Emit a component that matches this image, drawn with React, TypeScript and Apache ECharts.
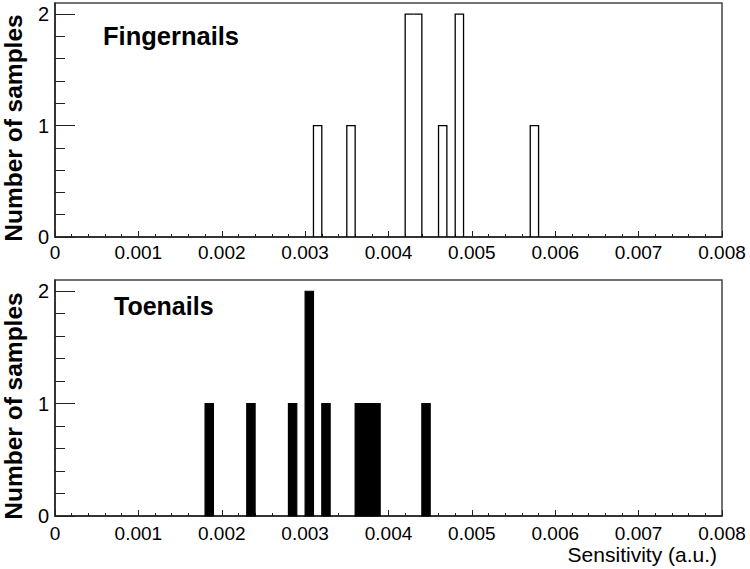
import React, { useEffect, useRef } from "react";
import * as echarts from "echarts";

const binWidth = 0.0001;
const fingerBinStarts = [0.0031, 0.0035, 0.0042, 0.0043, 0.0046, 0.0048, 0.0057];
const fingerCounts = [1, 1, 2, 2, 1, 2, 1];
const toeBinStarts = [0.0018, 0.0023, 0.0028, 0.003, 0.0032, 0.0036, 0.0037, 0.0038, 0.0044];
const toeCounts = [1, 1, 1, 2, 1, 1, 1, 1, 1];
const yMajorTicks = [0, 1, 2];
const yMinorTicks = [0.2, 0.4, 0.6, 0.8, 1.2, 1.4, 1.6, 1.8];
const xMin = 0;
const xMax = 0.008;
const xInterval = 0.001;
const yMax = 2.1;
const panelTitles = ["Fingernails", "Toenails"];
const yTitle = "Number of samples";
const xTitle = "Sensitivity (a.u.)";

const FONT = "'Liberation Sans', Arial, Helvetica, sans-serif";

function countMap(starts: number[], counts: number[]) {
  const m: Record<number, number> = {};
  starts.forEach((s, i) => {
    m[Math.round(s / binWidth)] = counts[i];
  });
  return m;
}

export default function App() {
  const ref = useRef<HTMLDivElement>(null);
  useEffect(() => {
    if (!ref.current) return;
    const chart = echarts.init(ref.current, null, { renderer: "svg" });
    const fingerMap = countMap(fingerBinStarts, fingerCounts);

    const xAxisBase = (gridIndex: number, margin: number) => ({
      gridIndex,
      type: "value",
      min: xMin,
      max: xMax,
      interval: xInterval,
      axisLine: { show: true, onZero: false, lineStyle: { color: "#222", width: 1.5 } },
      axisTick: { show: true, inside: true, length: 6, lineStyle: { color: "#222", width: 1 } },
      minorTick: { show: true, splitNumber: 5, length: 3, lineStyle: { color: "#222", width: 1 } },
      splitLine: { show: false },
      minorSplitLine: { show: false },
      axisLabel: {
        show: true,
        margin,
        color: "#000",
        fontSize: 19,
        fontFamily: FONT,
        formatter: (v: number) => (v === 0 ? "0" : v.toFixed(3)),
      },
    });

    const yAxisMajor = (gridIndex: number) => ({
      gridIndex,
      type: "value",
      position: "left",
      min: 0,
      max: yMax,
      axisLine: { show: true, lineStyle: { color: "#222", width: 1.5 } },
      axisTick: {
        show: true,
        inside: true,
        length: 20,
        customValues: yMajorTicks,
        lineStyle: { color: "#222", width: 1 },
      },
      splitLine: { show: false },
      axisLabel: {
        show: true,
        customValues: yMajorTicks,
        margin: 6,
        color: "#000",
        fontSize: 20,
        fontFamily: FONT,
      },
    });
    const yAxisMinor = (gridIndex: number) => ({
      gridIndex,
      type: "value",
      position: "left",
      offset: 0,
      min: 0,
      max: yMax,
      axisLine: { show: false },
      axisTick: {
        show: true,
        inside: true,
        length: 10,
        customValues: yMinorTicks,
        lineStyle: { color: "#222", width: 1 },
      },
      splitLine: { show: false },
      axisLabel: { show: false },
    });

    const option: any = {
      animation: false,
      backgroundColor: "#fff",
      grid: [
        { left: 55, right: 28, top: 3, bottom: 332, show: true, borderColor: "#444", borderWidth: 1.5, backgroundColor: "transparent" },
        { left: 55, right: 28, top: 280, bottom: 53, show: true, borderColor: "#444", borderWidth: 1.5, backgroundColor: "transparent" },
      ],
      xAxis: [xAxisBase(0, 6), xAxisBase(1, 8)],
      yAxis: [yAxisMajor(0), yAxisMinor(0), yAxisMajor(1), yAxisMinor(1)],
      series: [
        {
          type: "custom",
          coordinateSystem: "cartesian2d",
          xAxisIndex: 0,
          yAxisIndex: 0,
          data: fingerBinStarts.map((s, i) => [s, fingerCounts[i]]),
          renderItem: (params: any, api: any) => {
            const start = api.value(0);
            const count = api.value(1);
            const idx = Math.round(start / binWidth);
            const prev = fingerMap[idx - 1] || 0;
            const next = fingerMap[idx + 1] || 0;
            const pts: number[][] = [
              api.coord([start, prev]),
              api.coord([start, count]),
              api.coord([start + binWidth, count]),
            ];
            if (next === 0) pts.push(api.coord([start + binWidth, 0]));
            return {
              type: "polyline",
              shape: { points: pts },
              style: { stroke: "#000", lineWidth: 1.3, fill: null },
            };
          },
        },
        {
          type: "custom",
          coordinateSystem: "cartesian2d",
          xAxisIndex: 1,
          yAxisIndex: 2,
          data: toeBinStarts.map((s, i) => [s, toeCounts[i]]),
          renderItem: (params: any, api: any) => {
            const start = api.value(0);
            const count = api.value(1);
            const p0 = api.coord([start, count]);
            const p1 = api.coord([start + binWidth, 0]);
            return {
              type: "rect",
              shape: { x: p0[0], y: p0[1], width: p1[0] - p0[0], height: p1[1] - p0[1] },
              style: { fill: "#000", stroke: "#000", lineWidth: 1.2 },
            };
          },
        },
      ],
      graphic: [
        {
          type: "text",
          x: 103,
          y: 36,
          style: { text: panelTitles[0], fontSize: 25.5, fontWeight: "bold", fontFamily: FONT, fill: "#000", align: "left", verticalAlign: "middle" },
        },
        {
          type: "text",
          x: 114,
          y: 306,
          style: { text: panelTitles[1], fontSize: 25, fontWeight: "bold", fontFamily: FONT, fill: "#000", align: "left", verticalAlign: "middle" },
        },
        {
          type: "text",
          x: 13,
          y: 128,
          rotation: Math.PI / 2,
          style: { text: yTitle, fontSize: 24.5, fontWeight: "bold", fontFamily: FONT, fill: "#000", align: "center", verticalAlign: "middle" },
        },
        {
          type: "text",
          x: 13,
          y: 406,
          rotation: Math.PI / 2,
          style: { text: yTitle, fontSize: 24.5, fontWeight: "bold", fontFamily: FONT, fill: "#000", align: "center", verticalAlign: "middle" },
        },
        {
          type: "text",
          x: 717,
          y: 554,
          style: { text: xTitle, fontSize: 21, fontFamily: FONT, fill: "#000", align: "right", verticalAlign: "middle" },
        },
      ],
    };
    chart.setOption(option);
    return () => chart.dispose();
  }, []);
  return (
    <div
      ref={ref}
      style={{ position: "fixed", left: 0, top: 0, width: 750, height: 569, background: "#fff" }}
    />
  );
}
